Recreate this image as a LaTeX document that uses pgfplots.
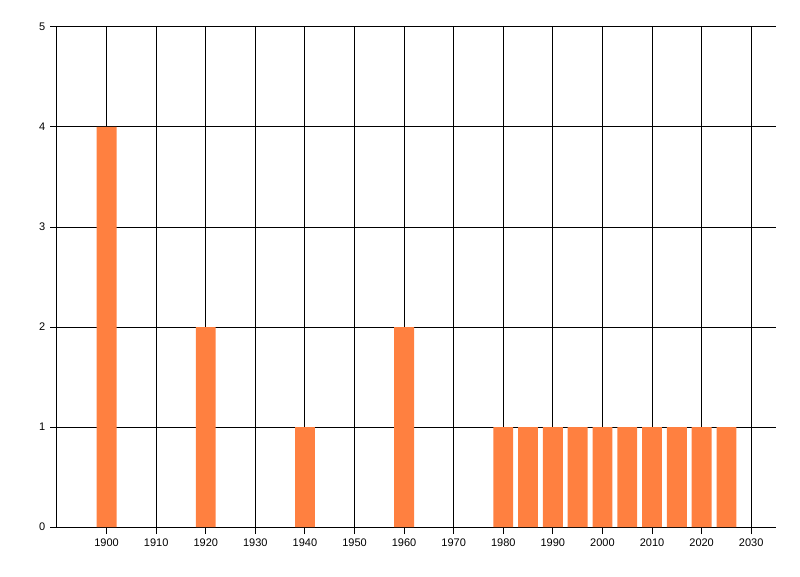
\documentclass[border=0pt]{standalone}
\usepackage{pgfplots}
\pgfplotsset{compat=1.18}
\usepackage{fontspec}
\setmainfont{Liberation Sans}
\definecolor{barorange}{RGB}{255,128,64}
\begin{document}
\begin{tikzpicture}
\begin{axis}[
  at={(0,0)}, anchor=south west,
  scale only axis,
  width=539.25pt, height=375pt,
  xmin=1890, xmax=2035,
  ymin=0, ymax=5,
  xtick={1900,1910,...,2030},
  ytick={0,1,2,3,4,5},
  axis x line=bottom, axis y line=left,
  axis line style={-, black, line width=0.75pt},
  grid=major,
  major grid style={black, line width=0.75pt},
  tick style={black, line width=0.75pt},
  tick align=outside,
  major tick length=5.25pt,
  /pgf/number format/assume math mode=true,
  /pgf/number format/1000 sep={},
  tick label style={font=\fontsize{8.25pt}{9pt}\selectfont},
  ybar, bar width=4, bar shift=0pt,
]
\addplot[fill=barorange, draw=none] coordinates {
 (1900,4) (1920,2) (1940,1) (1960,2)
 (1980,1) (1985,1) (1990,1) (1995,1) (2000,1)
 (2005,1) (2010,1) (2015,1) (2020,1) (2025,1)
};
\end{axis}
\pgfresetboundingbox
\path (-42.75pt,-36.75pt) rectangle (557.25pt,395.25pt);
\end{tikzpicture}
\end{document}
